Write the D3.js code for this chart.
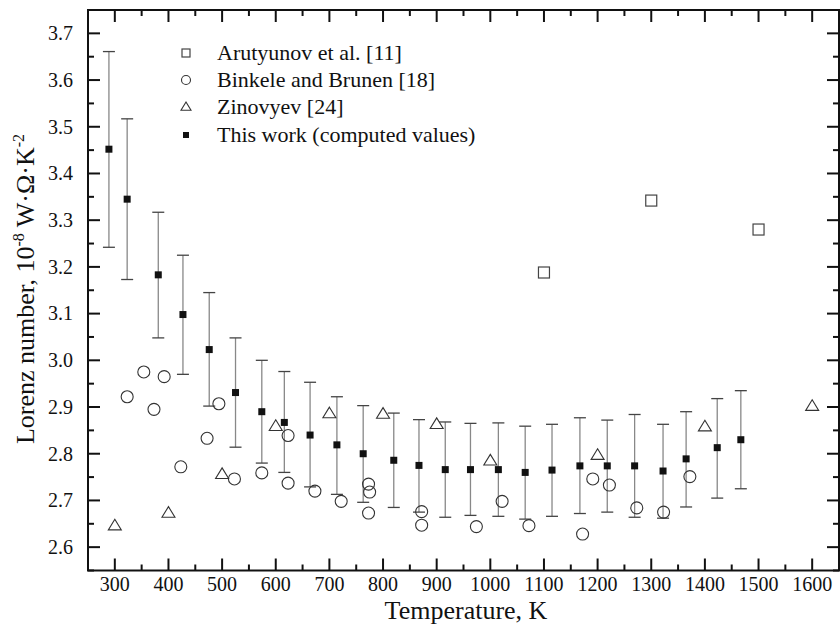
<!DOCTYPE html>
<html>
<head>
<meta charset="utf-8">
<script src="https://cdn.jsdelivr.net/npm/d3@7"></script>
<style>
  body { margin: 0; background: #fff; }
  svg text { font-family: "Liberation Serif", "Times New Roman", serif; fill: #111; }
</style>
</head>
<body>
<div id="chart"></div>
<script>
// Data
const workT  = [289, 323, 381, 427, 476, 525, 574, 616, 664, 714, 763, 820, 867, 916, 963, 1015, 1065, 1115, 1167, 1218, 1269, 1322, 1365, 1423, 1467];
const workL  = [3.452, 3.345, 3.183, 3.098, 3.023, 2.931, 2.890, 2.867, 2.840, 2.819, 2.800, 2.786, 2.775, 2.766, 2.766, 2.766, 2.760, 2.765, 2.774, 2.774, 2.774, 2.763, 2.789, 2.813, 2.830];
const workHi = [3.661, 3.517, 3.317, 3.225, 3.145, 3.048, 3.000, 2.976, 2.953, 2.922, 2.903, 2.887, 2.873, 2.868, 2.865, 2.866, 2.859, 2.863, 2.877, 2.872, 2.884, 2.863, 2.890, 2.918, 2.935];
const workLo = [3.242, 3.173, 3.048, 2.970, 2.902, 2.814, 2.780, 2.760, 2.729, 2.713, 2.696, 2.685, 2.675, 2.664, 2.668, 2.666, 2.660, 2.666, 2.672, 2.675, 2.664, 2.662, 2.686, 2.705, 2.725];

const arutT = [1100, 1300, 1500];
const arutL = [3.188, 3.342, 3.280];

const binkT = [323, 354, 373, 392, 423, 472, 494, 523, 574, 623, 623, 673, 722, 773, 775, 773, 872, 872, 974, 1022, 1072, 1172, 1191, 1222, 1273, 1323, 1372];
const binkL = [2.922, 2.975, 2.895, 2.965, 2.772, 2.833, 2.907, 2.746, 2.759, 2.839, 2.737, 2.720, 2.698, 2.735, 2.718, 2.673, 2.676, 2.647, 2.644, 2.698, 2.646, 2.628, 2.746, 2.733, 2.684, 2.675, 2.751];

const zinoT = [300, 400, 500, 600, 700, 800, 900, 1000, 1200, 1400, 1600];
const zinoL = [2.646, 2.673, 2.756, 2.859, 2.886, 2.885, 2.863, 2.785, 2.797, 2.858, 2.902];

const xTicks = d3.range(300, 1601, 100);
const xMinor = d3.range(250, 1651, 50);
const yTicks = d3.range(2.6, 3.71, 0.1);
const yMinor = d3.range(2.55, 3.76, 0.05);

const legendLabels = ["Arutyunov et al. [11]", "Binkele and Brunen [18]", "Zinovyev [24]", "This work (computed values)"];

// SVG size and plot box
const width = 840;
const height = 625;
const plotL = 88, plotR = 839, plotT = 10, plotB = 570.5;

const svg = d3.select("#chart").append("svg")
  .attr("width", width)
  .attr("height", height);

const x = d3.scaleLinear().domain([250, 1650]).range([plotL, plotR]);
const y = d3.scaleLinear().domain([2.55, 3.75]).range([plotB, plotT]);

const tickCol = "#111";

// Minor and major tick marks on all four sides (pointing inward)
const ticks = svg.append("g").attr("stroke", tickCol).attr("stroke-width", 2);
xMinor.forEach((t) => {
  const major = Math.round(t) % 100 === 0;
  const len = major ? 12 : 6;
  ticks.append("line").attr("x1", x(t)).attr("x2", x(t)).attr("y1", plotB).attr("y2", plotB - len);
  ticks.append("line").attr("x1", x(t)).attr("x2", x(t)).attr("y1", plotT).attr("y2", plotT + len);
});
yMinor.forEach((v) => {
  const major = Math.round(v * 100) % 10 === 0;
  const len = major ? 12 : 6;
  ticks.append("line").attr("x1", plotL).attr("x2", plotL + len).attr("y1", y(v)).attr("y2", y(v));
  ticks.append("line").attr("x1", plotR).attr("x2", plotR - len).attr("y1", y(v)).attr("y2", y(v));
});

// Frame
svg.append("rect")
  .attr("x", plotL).attr("y", plotT)
  .attr("width", plotR - plotL).attr("height", plotB - plotT)
  .attr("fill", "none").attr("stroke", tickCol).attr("stroke-width", 2);

// Tick labels
svg.append("g").selectAll("text")
  .data(xTicks)
  .join("text")
  .attr("x", (d) => x(d))
  .attr("y", 591)
  .attr("text-anchor", "middle")
  .style("font-size", "20px")
  .text((d) => d);

svg.append("g").selectAll("text")
  .data(yTicks)
  .join("text")
  .attr("x", 73)
  .attr("y", (d) => y(d))
  .attr("dy", "0.34em")
  .attr("text-anchor", "end")
  .style("font-size", "20px")
  .text((d) => d.toFixed(1));

// Axis titles
svg.append("text")
  .attr("x", 466)
  .attr("y", 619)
  .attr("text-anchor", "middle")
  .style("font-size", "26px")
  .text("Temperature, K");

const yTitle = svg.append("text")
  .attr("transform", "translate(34,289) rotate(-90)")
  .attr("text-anchor", "middle")
  .style("font-size", "26px");
yTitle.append("tspan").text("Lorenz number, 10");
yTitle.append("tspan").attr("dy", -10).style("font-size", "16px").text("-8");
yTitle.append("tspan").attr("dy", 10).text(" W\u00B7\u03A9\u00B7K");
yTitle.append("tspan").attr("dy", -10).style("font-size", "16px").text("-2");

// Error bars for this work
const errG = svg.append("g");
workT.forEach((t, i) => {
  const cx = x(t);
  errG.append("line")
    .attr("x1", cx).attr("x2", cx)
    .attr("y1", y(workHi[i])).attr("y2", y(workLo[i]))
    .attr("stroke", "#888").attr("stroke-width", 1.3);
  [workHi[i], workLo[i]].forEach((v) => {
    errG.append("line")
      .attr("x1", cx - 6).attr("x2", cx + 6)
      .attr("y1", y(v)).attr("y2", y(v))
      .attr("stroke", "#444").attr("stroke-width", 1.3);
  });
});

// Marker helpers
function openSquare(g, cx, cy, s) {
  g.append("rect")
    .attr("x", cx - s / 2).attr("y", cy - s / 2)
    .attr("width", s).attr("height", s)
    .attr("fill", "#fff").attr("stroke", "#444").attr("stroke-width", 1.2);
}
function openCircle(g, cx, cy, r) {
  g.append("circle")
    .attr("cx", cx).attr("cy", cy).attr("r", r)
    .attr("fill", "none").attr("stroke", "#333").attr("stroke-width", 1.1);
}
function openTriangle(g, cx, cy, w) {
  const h = w * 0.82;
  g.append("path")
    .attr("d", `M${cx},${cy - h * 0.6}L${cx + w / 2},${cy + h * 0.4}L${cx - w / 2},${cy + h * 0.4}Z`)
    .attr("fill", "none").attr("stroke", "#333").attr("stroke-width", 1.1);
}
function filledSquare(g, cx, cy, s) {
  g.append("rect")
    .attr("x", cx - s / 2).attr("y", cy - s / 2)
    .attr("width", s).attr("height", s)
    .attr("fill", "#111");
}

const marks = svg.append("g");
binkT.forEach((t, i) => openCircle(marks, x(t), y(binkL[i]), 6));
zinoT.forEach((t, i) => openTriangle(marks, x(t), y(zinoL[i]), 13));
arutT.forEach((t, i) => openSquare(marks, x(t), y(arutL[i]), 11));
workT.forEach((t, i) => filledSquare(marks, x(t), y(workL[i]), 7));

// Legend
const legY = [53, 80, 107, 135];
const leg = svg.append("g");
openSquare(leg, 186, legY[0], 8);
openCircle(leg, 186, legY[1], 4.5);
openTriangle(leg, 186, legY[2], 10);
filledSquare(leg, 186, legY[3], 6);
legendLabels.forEach((lab, i) => {
  leg.append("text")
    .attr("x", 217)
    .attr("y", legY[i])
    .attr("dy", "0.34em")
    .style("font-size", "22px")
    .text(lab);
});
</script>
</body>
</html>
